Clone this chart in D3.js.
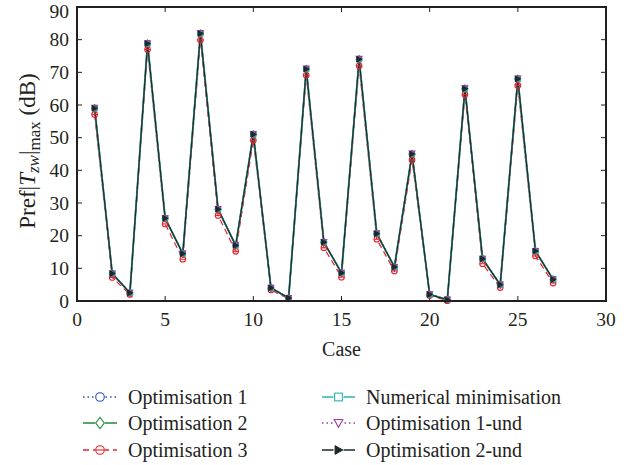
<!DOCTYPE html>
<html><head><meta charset="utf-8">
<script src="https://cdn.jsdelivr.net/npm/d3@7"></script>
<style>body{margin:0;background:#fff}svg{display:block}text{font-family:"Liberation Serif","DejaVu Serif",serif;fill:#231f20}</style>
</head><body><svg id="c" width="638" height="465" font-family="Liberation Serif, DejaVu Serif, serif"></svg>
<script>
const cases = d3.range(1, 28);
const opt1 =   [59,8.4,2.5,78.8,25.3,14.5,81.9,28.1,17,51,4,0.9,71,18,8.6,74,20.6,10.4,45,2,0.4,65,12.9,5,68,15.3,6.6];
const opt2 =   [59,8.4,2.5,78.8,25.3,14.5,81.9,28.1,17,51,4,0.9,71,18,8.6,74,20.6,10.4,45,2,0.4,65,12.9,5,68,15.3,6.6];
const opt3 =   [57.1,7.2,2,77,23.6,12.8,79.9,26.2,15.2,49.2,3.4,0.7,69.1,16.3,7.3,72,18.9,9.2,43.2,1.7,0.1,63.2,11.4,4.1,66,13.8,5.5];
const numMin = [59,8.4,2.5,78.8,25.3,14.5,81.9,28.1,17,51,4,0.9,71,18,8.6,74,20.6,10.4,45,2,0.4,65,12.9,5,68,15.3,6.6];
const opt1und =[59.2,8.5,2.6,79,25.4,14.6,82.1,28.2,17.1,51.2,4.1,1,71.2,18.1,8.7,74.2,20.7,10.5,45.2,2.1,0.5,65.2,13,5.1,68.2,15.4,6.7];
const opt2und =[59,8.4,2.5,78.8,25.3,14.5,81.9,28.1,17,51,4,0.9,71,18,8.6,74,20.6,10.4,45,2,0.4,65,12.9,5,68,15.3,6.6];
const xTicks = [0,5,10,15,20,25,30];
const yTicks = [0,10,20,30,40,50,60,70,80,90];
const seriesNames = ["Optimisation 1","Optimisation 2","Optimisation 3","Numerical minimisation","Optimisation 1-und","Optimisation 2-und"];

const svg = d3.select("#c");
const L=77, R=606, T=7, B=301;
const x = d3.scaleLinear().domain([0,30]).range([L,R]);
const y = d3.scaleLinear().domain([0,90]).range([B,T]);

const series = [
  {name:seriesNames[0], vals:opt1, color:"#2b4fb5", dash:"1.5,3", w:1.2, marker:"circle"},
  {name:seriesNames[1], vals:opt2, color:"#1f8a3c", dash:null, w:1.8, marker:"diamond"},
  {name:seriesNames[2], vals:opt3, color:"#e8202a", dash:"6,4", w:1.2, marker:"circle3"},
  {name:seriesNames[3], vals:numMin, color:"#2ab5b0", dash:null, w:1.6, marker:"square"},
  {name:seriesNames[4], vals:opt1und, color:"#a33aa8", dash:"1.5,3", w:1.2, marker:"tridown"},
  {name:seriesNames[5], vals:opt2und, color:"#1a2a2a", dash:null, w:1.1, marker:"triright"}
];

function drawMarker(g, type, cx, cy, color, s) {
  s = s || 3.2;
  if (type==="circle" || type==="circle3") {
    g.append("circle").attr("cx",cx).attr("cy",cy).attr("r",s).attr("fill","none").attr("stroke",color).attr("stroke-width",1.1);
    if (type==="circle3") g.append("line").attr("x1",cx-s).attr("x2",cx+s).attr("y1",cy).attr("y2",cy).attr("stroke",color).attr("stroke-width",1.1);
  } else if (type==="diamond") {
    g.append("path").attr("d",`M${cx},${cy-s*1.3}L${cx+s},${cy}L${cx},${cy+s*1.3}L${cx-s},${cy}Z`).attr("fill","none").attr("stroke",color).attr("stroke-width",1.1);
  } else if (type==="square") {
    g.append("rect").attr("x",cx-s*0.9).attr("y",cy-s*0.9).attr("width",s*1.8).attr("height",s*1.8).attr("fill","none").attr("stroke",color).attr("stroke-width",1.1);
  } else if (type==="tridown") {
    g.append("path").attr("d",`M${cx-s},${cy-s*0.8}L${cx+s},${cy-s*0.8}L${cx},${cy+s}Z`).attr("fill","none").attr("stroke",color).attr("stroke-width",1.1);
  } else if (type==="triright") {
    g.append("path").attr("d",`M${cx-s*0.8},${cy-s}L${cx+s},${cy}L${cx-s*0.8},${cy+s}Z`).attr("fill",color).attr("stroke",color).attr("stroke-width",1);
  }
}

// ticks (inward) on all sides
const tk = svg.append("g").attr("stroke","#231f20").attr("stroke-width",1);
xTicks.slice(1,-1).forEach(t=>{
  tk.append("line").attr("x1",x(t)).attr("x2",x(t)).attr("y1",B).attr("y2",B-5);
  tk.append("line").attr("x1",x(t)).attr("x2",x(t)).attr("y1",T).attr("y2",T+5);
});
yTicks.slice(1,-1).forEach(t=>{
  tk.append("line").attr("x1",L).attr("x2",L+5).attr("y1",y(t)).attr("y2",y(t));
  tk.append("line").attr("x1",R).attr("x2",R-5).attr("y1",y(t)).attr("y2",y(t));
});

// lines
const plot = svg.append("g");
series.forEach(s=>{
  const line = d3.line().x((d,i)=>x(cases[i])).y(d=>y(d));
  plot.append("path").attr("d",line(s.vals)).attr("fill","none").attr("stroke",s.color)
    .attr("stroke-width",s.w).attr("stroke-dasharray",s.dash).attr("stroke-linejoin","miter");
});
series.forEach(s=>{
  const mg = plot.append("g");
  s.vals.forEach((v,i)=>drawMarker(mg, s.marker, x(cases[i]), y(v), s.color, 2.8));
});

// frame
svg.append("rect").attr("x",L).attr("y",T).attr("width",R-L).attr("height",B-T)
  .attr("fill","none").attr("stroke","#231f20").attr("stroke-width",2);

// tick labels
const FS = 19.5;
xTicks.forEach(t=>svg.append("text").attr("x",x(t)).attr("y",B+25).attr("text-anchor","middle").attr("font-size",FS).text(t));
yTicks.forEach(t=>svg.append("text").attr("x",L-8).attr("y",Math.max(y(t)+6.5,17.5)).attr("text-anchor","end").attr("font-size",FS).text(t));

// axis labels
svg.append("text").attr("x",(L+R)/2).attr("y",356).attr("text-anchor","middle").attr("font-size",20).text("Case");
const yl = svg.append("text").attr("transform","translate(35,151) rotate(-90)").attr("text-anchor","middle").attr("font-size",23);
yl.append("tspan").text("Pref|");
yl.append("tspan").attr("font-style","italic").text("T");
yl.append("tspan").attr("font-style","italic").attr("font-size",17).attr("dy",4).text("zw");
yl.append("tspan").attr("dy",-4).text("|");
yl.append("tspan").attr("font-size",17).attr("dy",5).text("max");
yl.append("tspan").attr("dy",-5).text(" (dB)");

// legend
const leg = svg.append("g");
const cols = [{x0:83,x1:117,tx:128},{x0:322,x1:355,tx:366}];
const rows = [397,423,450];
series.forEach((s,i)=>{
  const c = cols[Math.floor(i/3)], ry = rows[i%3];
  leg.append("line").attr("x1",c.x0).attr("x2",c.x1).attr("y1",ry).attr("y2",ry)
    .attr("stroke",s.color).attr("stroke-width",1.3).attr("stroke-dasharray",s.dash);
  leg.append("rect").attr("x",(c.x0+c.x1)/2-5).attr("y",ry-5).attr("width",10).attr("height",10).attr("fill","#fff");
  const mg = leg.append("g");
  drawMarker(mg, s.marker, (c.x0+c.x1)/2, ry, s.color, 4.3);
  leg.append("text").attr("x",c.tx).attr("y",ry+6.5).attr("font-size",20).text(s.name);
});
</script></body></html>
